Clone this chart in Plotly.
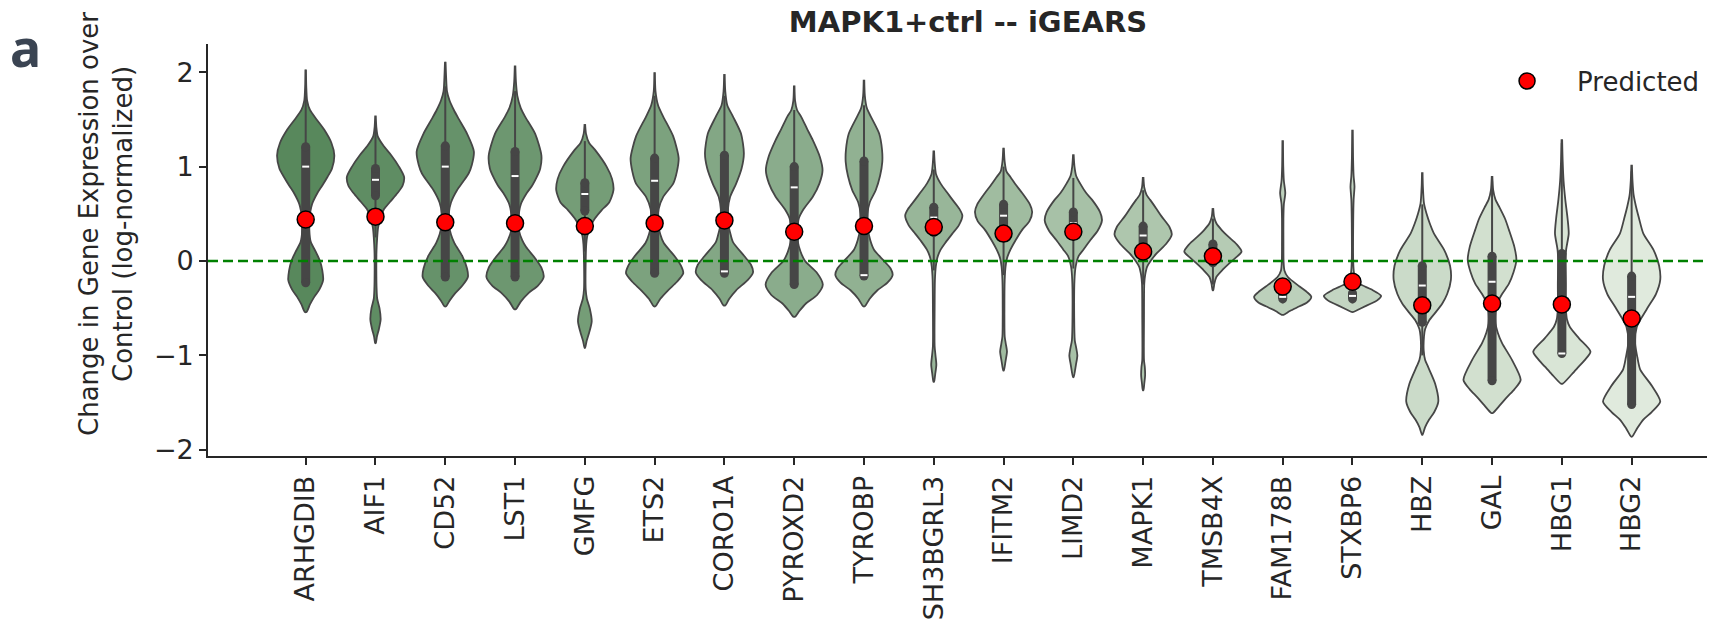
import plotly.graph_objects as go

# Genes shown on the x axis, in plotting order
genes = ["ARHGDIB", "AIF1", "CD52", "LST1", "GMFG", "ETS2", "CORO1A", "PYROXD2",
         "TYROBP", "SH3BGRL3", "IFITM2", "LIMD2", "MAPK1", "TMSB4X", "FAM178B",
         "STXBP6", "HBZ", "GAL", "HBG1", "HBG2"]

# Model prediction per gene
predicted = [0.44, 0.47, 0.41, 0.40, 0.37, 0.40, 0.43, 0.31, 0.37, 0.36,
             0.29, 0.31, 0.10, 0.05, -0.27, -0.22, -0.47, -0.45, -0.46, -0.61]

# Box summary of the observed cells
q1 = [-0.23, 0.69, -0.17, -0.17, 0.53, -0.13, -0.13, -0.25, -0.16, 0.30,
      0.30, 0.28, 0.05, -0.02, -0.40, -0.40, -0.65, -1.27, -0.98, -1.52]
median = [1.00, 0.86, 1.00, 0.90, 0.71, 0.85, -0.11, 0.78, -0.15, 0.46,
          0.48, 0.40, 0.27, 0.07, -0.38, -0.37, -0.26, -0.22, -0.98, -0.38]
q3 = [1.21, 0.98, 1.22, 1.16, 0.83, 1.09, 1.12, 1.00, 1.06, 0.57,
      0.60, 0.52, 0.37, 0.18, -0.35, -0.34, -0.05, 0.05, 0.08, -0.16]
whisker_lo = [-0.23, 0.25, -0.17, -0.17, 0.10, -0.13, -0.13, -0.25, -0.16, -0.10,
              -0.15, -0.08, -0.25, -0.25, -0.45, -0.45, -1.00, -1.27, -0.98, -1.52]
whisker_hi = [1.75, 1.42, 1.85, 1.80, 1.27, 1.75, 1.75, 1.60, 1.65, 0.97,
              1.00, 0.88, 0.75, 0.45, -0.30, -0.30, 0.60, 0.85, 1.25, 0.95]

# Density outline of each violin: expression levels (top to bottom) and
# relative half-width at each level (1 = widest point of that violin)
profile_levels = [
    [2.03, 1.85, 1.70, 1.60, 1.50, 1.39, 1.25, 1.12, 0.98, 0.89, 0.80, 0.72, 0.60, 0.45, 0.33, 0.20, 0.10, 0.0, -0.10, -0.20, -0.30, -0.38, -0.46, -0.54],
    [1.54, 1.42, 1.32, 1.22, 1.12, 1.00, 0.89, 0.80, 0.72, 0.63, 0.55, 0.45, 0.35, 0.25, 0.10, -0.10, -0.30, -0.40, -0.50, -0.62, -0.72, -0.80, -0.87],
    [2.11, 1.95, 1.80, 1.70, 1.60, 1.50, 1.35, 1.16, 1.02, 0.93, 0.84, 0.75, 0.62, 0.50, 0.40, 0.28, 0.19, 0.05, -0.08, -0.17, -0.26, -0.34, -0.42, -0.48],
    [2.07, 1.90, 1.75, 1.62, 1.53, 1.35, 1.12, 0.98, 0.89, 0.80, 0.72, 0.60, 0.45, 0.32, 0.22, 0.15, 0.03, -0.07, -0.17, -0.26, -0.34, -0.43, -0.51],
    [1.45, 1.35, 1.25, 1.18, 1.00, 0.87, 0.75, 0.62, 0.54, 0.45, 0.36, 0.26, 0.18, 0.0, -0.30, -0.40, -0.50, -0.64, -0.76, -0.85, -0.92],
    [2.00, 1.80, 1.65, 1.53, 1.32, 1.09, 0.95, 0.82, 0.68, 0.55, 0.40, 0.28, 0.19, 0.05, -0.05, -0.13, -0.22, -0.31, -0.40, -0.48],
    [1.98, 1.80, 1.65, 1.53, 1.35, 1.14, 0.98, 0.82, 0.68, 0.54, 0.40, 0.30, 0.20, 0.05, -0.04, -0.12, -0.20, -0.31, -0.40, -0.47],
    [1.86, 1.70, 1.60, 1.53, 1.40, 1.28, 1.10, 0.96, 0.82, 0.68, 0.55, 0.45, 0.35, 0.20, 0.10, 0.0, -0.12, -0.25, -0.36, -0.45, -0.53, -0.59],
    [1.92, 1.75, 1.62, 1.53, 1.35, 1.18, 1.05, 0.90, 0.75, 0.62, 0.50, 0.35, 0.22, 0.12, 0.0, -0.08, -0.15, -0.23, -0.31, -0.40, -0.48],
    [1.17, 1.05, 0.92, 0.82, 0.72, 0.65, 0.55, 0.48, 0.38, 0.29, 0.20, 0.12, 0.03, -0.06, -0.20, -0.50, -0.90, -1.00, -1.10, -1.20, -1.28],
    [1.20, 1.05, 0.95, 0.89, 0.80, 0.72, 0.60, 0.52, 0.42, 0.33, 0.22, 0.12, 0.03, -0.06, -0.20, -0.50, -0.80, -0.88, -0.96, -1.06, -1.16],
    [1.13, 1.00, 0.90, 0.82, 0.72, 0.65, 0.52, 0.43, 0.32, 0.22, 0.12, 0.05, -0.06, -0.20, -0.60, -0.84, -0.92, -1.00, -1.10, -1.23],
    [0.89, 0.78, 0.70, 0.65, 0.56, 0.47, 0.36, 0.28, 0.18, 0.08, 0.0, -0.06, -0.15, -0.24, -0.60, -1.05, -1.13, -1.21, -1.30, -1.37],
    [0.56, 0.47, 0.40, 0.33, 0.26, 0.18, 0.10, 0.03, -0.02, -0.09, -0.17, -0.24, -0.31],
    [1.28, 1.00, 0.85, 0.72, 0.60, 0.45, 0.20, 0.0, -0.10, -0.17, -0.27, -0.33, -0.38, -0.44, -0.48, -0.53, -0.57],
    [1.39, 1.10, 0.90, 0.79, 0.65, 0.40, 0.0, -0.12, -0.19, -0.24, -0.30, -0.37, -0.42, -0.45, -0.50, -0.54],
    [0.94, 0.80, 0.61, 0.50, 0.40, 0.29, 0.12, -0.05, -0.20, -0.35, -0.45, -0.55, -0.63, -0.72, -0.80, -0.95, -1.05, -1.12, -1.30, -1.49, -1.60, -1.68, -1.76, -1.84],
    [0.90, 0.75, 0.65, 0.58, 0.45, 0.33, 0.15, 0.01, -0.12, -0.24, -0.35, -0.45, -0.55, -0.66, -0.76, -0.87, -1.05, -1.26, -1.36, -1.44, -1.52, -1.61],
    [1.29, 1.05, 0.85, 0.65, 0.45, 0.29, 0.12, 0.0, -0.24, -0.50, -0.62, -0.70, -0.82, -0.96, -1.05, -1.12, -1.20, -1.30],
    [1.02, 0.85, 0.70, 0.58, 0.45, 0.29, 0.12, -0.05, -0.20, -0.35, -0.48, -0.60, -0.70, -0.87, -1.02, -1.15, -1.32, -1.49, -1.60, -1.68, -1.77, -1.86],
]
profile_widths = [
    [0.01, 0.02, 0.05, 0.15, 0.38, 0.65, 0.90, 1.00, 0.92, 0.76, 0.58, 0.41, 0.22, 0.13, 0.12, 0.18, 0.35, 0.50, 0.58, 0.61, 0.48, 0.30, 0.15, 0.03],
    [0.01, 0.03, 0.08, 0.28, 0.55, 0.82, 1.00, 0.95, 0.77, 0.52, 0.30, 0.16, 0.09, 0.06, 0.035, 0.03, 0.04, 0.06, 0.14, 0.18, 0.12, 0.05, 0.01],
    [0.01, 0.03, 0.06, 0.15, 0.30, 0.48, 0.76, 1.00, 0.93, 0.82, 0.62, 0.41, 0.20, 0.12, 0.12, 0.20, 0.32, 0.60, 0.76, 0.79, 0.60, 0.35, 0.15, 0.03],
    [0.01, 0.03, 0.08, 0.20, 0.35, 0.70, 0.92, 0.88, 0.76, 0.60, 0.41, 0.20, 0.12, 0.14, 0.25, 0.38, 0.70, 0.92, 1.00, 0.80, 0.47, 0.20, 0.03],
    [0.01, 0.04, 0.15, 0.35, 0.76, 0.95, 1.00, 0.85, 0.59, 0.35, 0.18, 0.08, 0.05, 0.03, 0.03, 0.07, 0.17, 0.24, 0.15, 0.06, 0.01],
    [0.01, 0.03, 0.12, 0.30, 0.65, 0.84, 0.78, 0.65, 0.30, 0.14, 0.12, 0.20, 0.32, 0.70, 0.92, 1.00, 0.78, 0.47, 0.20, 0.03],
    [0.01, 0.03, 0.10, 0.30, 0.58, 0.68, 0.60, 0.41, 0.20, 0.12, 0.13, 0.20, 0.30, 0.70, 0.93, 1.00, 0.82, 0.41, 0.17, 0.03],
    [0.01, 0.03, 0.10, 0.24, 0.45, 0.65, 0.90, 0.99, 0.88, 0.65, 0.33, 0.16, 0.12, 0.13, 0.22, 0.38, 0.78, 1.00, 0.80, 0.41, 0.18, 0.03],
    [0.01, 0.03, 0.10, 0.24, 0.53, 0.63, 0.64, 0.56, 0.41, 0.20, 0.12, 0.13, 0.22, 0.35, 0.70, 0.93, 1.00, 0.82, 0.47, 0.20, 0.03],
    [0.01, 0.03, 0.08, 0.24, 0.48, 0.65, 0.90, 1.00, 0.88, 0.65, 0.42, 0.24, 0.12, 0.07, 0.04, 0.03, 0.03, 0.06, 0.09, 0.05, 0.01],
    [0.01, 0.04, 0.10, 0.24, 0.45, 0.65, 0.92, 1.00, 0.90, 0.65, 0.42, 0.24, 0.12, 0.07, 0.04, 0.03, 0.04, 0.08, 0.12, 0.07, 0.01],
    [0.01, 0.04, 0.10, 0.24, 0.45, 0.65, 0.93, 1.00, 0.85, 0.59, 0.35, 0.18, 0.08, 0.04, 0.03, 0.05, 0.10, 0.14, 0.09, 0.01],
    [0.01, 0.04, 0.12, 0.24, 0.45, 0.65, 0.92, 1.00, 0.80, 0.47, 0.26, 0.14, 0.07, 0.04, 0.03, 0.03, 0.06, 0.07, 0.04, 0.01],
    [0.01, 0.04, 0.12, 0.30, 0.53, 0.82, 1.00, 0.78, 0.59, 0.35, 0.12, 0.05, 0.01],
    [0.01, 0.02, 0.04, 0.09, 0.04, 0.025, 0.025, 0.03, 0.06, 0.18, 0.59, 0.85, 1.00, 0.85, 0.59, 0.25, 0.03],
    [0.01, 0.02, 0.04, 0.07, 0.04, 0.025, 0.025, 0.05, 0.12, 0.24, 0.65, 1.00, 0.85, 0.65, 0.30, 0.03],
    [0.01, 0.02, 0.06, 0.15, 0.26, 0.41, 0.76, 0.97, 1.00, 0.87, 0.70, 0.45, 0.24, 0.10, 0.06, 0.05, 0.10, 0.20, 0.45, 0.56, 0.42, 0.24, 0.10, 0.01],
    [0.01, 0.04, 0.12, 0.24, 0.45, 0.59, 0.78, 0.85, 0.75, 0.59, 0.35, 0.18, 0.12, 0.12, 0.20, 0.35, 0.70, 1.00, 0.78, 0.53, 0.30, 0.03],
    [0.01, 0.03, 0.06, 0.12, 0.20, 0.24, 0.15, 0.13, 0.14, 0.14, 0.18, 0.28, 0.60, 1.00, 0.80, 0.59, 0.35, 0.03],
    [0.01, 0.03, 0.07, 0.15, 0.26, 0.41, 0.76, 0.96, 1.00, 0.85, 0.59, 0.35, 0.18, 0.12, 0.20, 0.30, 0.70, 1.00, 0.70, 0.41, 0.20, 0.02],
]

# Y-axis ticks
y_ticks = [-2, -1, 0, 1, 2]
y_tick_text = ["\u22122", "\u22121", "0", "1", "2"]

TEXT = "#262626"
EDGE = "#464646"
FONT = "DejaVu Sans"
HALF_WIDTH = 0.41           # widest half-width of a violin, in category units
DARK = (88, 136, 92)         # palette end points (first gene -> last gene)
LIGHT = (224, 234, 221)


def ramp(i, n):
    t = i / (n - 1)
    r, g, b = (round(a + (c - a) * t) for a, c in zip(DARK, LIGHT))
    return f"rgb({r},{g},{b})"


fig = go.Figure()
n = len(genes)

for i, gene in enumerate(genes):
    lv = profile_levels[i]
    wd = profile_widths[i]
    xs = [i + HALF_WIDTH * w for w in wd] + [i - HALF_WIDTH * w for w in reversed(wd)]
    ys = list(lv) + list(reversed(lv))
    fig.add_trace(go.Scatter(
        x=xs, y=ys, mode="lines", fill="toself", fillcolor=ramp(i, n),
        line=dict(color=EDGE, width=1.8, shape="spline", smoothing=0.7),
        hoverinfo="skip", showlegend=False))

for i, gene in enumerate(genes):
    # whisker
    fig.add_trace(go.Scatter(
        x=[i, i], y=[whisker_lo[i], whisker_hi[i]], mode="lines",
        line=dict(color=EDGE, width=2), hoverinfo="skip", showlegend=False))
    # inter-quartile box with rounded ends
    fig.add_trace(go.Scatter(
        x=[i, i], y=[q1[i], q3[i]], mode="lines+markers",
        line=dict(color=EDGE, width=9),
        marker=dict(color=EDGE, size=9, line=dict(width=0)),
        hoverinfo="skip", showlegend=False))
    # median tick
    fig.add_trace(go.Scatter(
        x=[i - 0.05, i + 0.05], y=[median[i], median[i]], mode="lines",
        line=dict(color="white", width=2), hoverinfo="skip", showlegend=False))

# zero reference line across the axis range
x_range = [-1.40, 20.08]
fig.add_trace(go.Scatter(
    x=x_range, y=[0, 0], mode="lines",
    line=dict(color="#008000", width=2.3, dash="10px,5px"),
    hoverinfo="skip", showlegend=False))

fig.add_trace(go.Scatter(
    x=list(range(n)), y=predicted, mode="markers", name="Predicted",
    marker=dict(color="#ff0000", size=17, line=dict(color="black", width=1.5))))

fig.update_layout(
    width=1729, height=622, autosize=False,
    margin=dict(l=208, r=22, t=44, b=166),
    plot_bgcolor="white", paper_bgcolor="white",
    font=dict(family=FONT, size=26, color=TEXT),
    title=dict(text="<b>MAPK1+ctrl -- iGEARS</b>", x=968 / 1729, xref="container",
               xanchor="center", y=1 - 22 / 622, yref="container", yanchor="middle",
               font=dict(family=FONT, size=29, color=TEXT)),
    showlegend=True,
    legend=dict(x=0.8466, y=0.91, xanchor="left", yanchor="middle",
                bgcolor="rgba(0,0,0,0)", itemwidth=90,
                font=dict(family=FONT, size=26, color=TEXT)),
    xaxis=dict(range=x_range, tickmode="array", tickvals=list(range(n)), ticktext=genes,
               tickangle=-90, showgrid=False, zeroline=False, showline=True, automargin=False,
               linecolor=TEXT, linewidth=1.8, ticks="outside", ticklen=7, tickwidth=1.6,
               tickcolor=TEXT, tickfont=dict(family=FONT, size=27, color=TEXT)),
    yaxis=dict(range=[-2.066, 2.299], tickmode="array", tickvals=y_ticks, ticktext=y_tick_text,
               showgrid=False, zeroline=False, showline=True, automargin=False,
               linecolor=TEXT, linewidth=1.8, ticks="outside", ticklen=7, tickwidth=1.6,
               tickcolor=TEXT, tickfont=dict(family=FONT, size=27, color=TEXT)),
    annotations=[
        dict(text="Change in Gene Expression over<br>Control (log-normalized)",
             xref="paper", yref="paper", x=(106 - 208) / 1499, y=(456 - 224) / 412,
             xanchor="center", yanchor="middle", textangle=-90, showarrow=False,
             font=dict(family=FONT, size=26, color=TEXT)),
        dict(text="<b>a</b>", xref="paper", yref="paper",
             x=(25 - 208) / 1499, y=(456 - 46) / 412,
             xanchor="center", yanchor="middle", showarrow=False,
             font=dict(family="Noto Sans", size=52, color="#3a4452")),
    ],
)

fig.write_html("out.html")
